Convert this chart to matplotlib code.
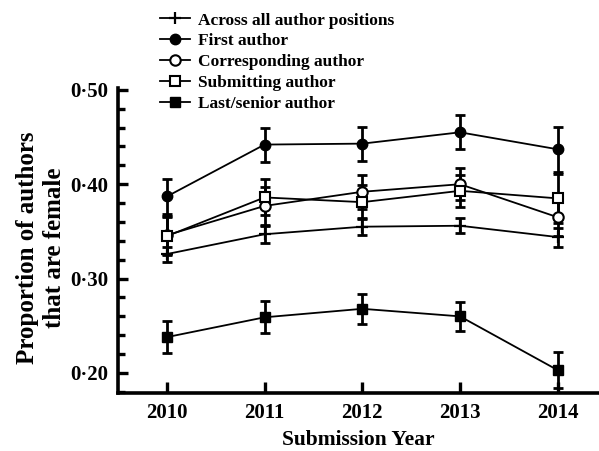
import matplotlib
matplotlib.use("Agg")
import matplotlib.pyplot as plt
from matplotlib.ticker import MultipleLocator, FuncFormatter

years = [2010, 2011, 2012, 2013, 2014]

across_all = [0.326, 0.347, 0.355, 0.356, 0.344]
across_all_err = [0.008, 0.009, 0.009, 0.008, 0.010]

first_author = [0.387, 0.442, 0.443, 0.455, 0.437]
first_author_err = [0.019, 0.018, 0.018, 0.018, 0.024]

corresponding = [0.346, 0.377, 0.392, 0.400, 0.365]
corresponding_err = [0.020, 0.020, 0.018, 0.017, 0.020]

submitting = [0.345, 0.386, 0.381, 0.393, 0.385]
submitting_err = [0.020, 0.019, 0.018, 0.017, 0.026]

last_senior = [0.238, 0.259, 0.268, 0.260, 0.203]
last_senior_err = [0.017, 0.017, 0.016, 0.015, 0.019]

series = [
    ("Across all author positions", across_all, across_all_err, dict(marker="+", ms=9, mew=1.6, mfc="black")),
    ("First author", first_author, first_author_err, dict(marker="o", ms=7.5, mfc="black")),
    ("Corresponding author", corresponding, corresponding_err, dict(marker="o", ms=7.5, mfc="white", mew=1.5)),
    ("Submitting author", submitting, submitting_err, dict(marker="s", ms=7.5, mfc="white", mew=1.5)),
    ("Last/senior author", last_senior, last_senior_err, dict(marker="s", ms=7.5, mfc="black")),
]

plt.rcParams["font.family"] = ["Liberation Serif", "DejaVu Serif"]
plt.rcParams["font.weight"] = "bold"

fig = plt.figure(figsize=(5.99, 4.51), dpi=100)
ax = fig.add_axes([0.197, 0.1286, 0.801, 0.6764])

handles = []
for name, vals, errs, style in series:
    ax.errorbar(years, vals, yerr=errs, fmt="none", ecolor="black",
                elinewidth=2.0, capsize=3.5, capthick=2.0, zorder=2)
    (h,) = ax.plot(years, vals, color="black", lw=1.3, mec="black",
                   label=name, zorder=3, **style)
    handles.append(h)

ax.set_xlim(2009.5, 2014.41)
ax.set_ylim(0.1788, 0.502)

ax.set_xticks(years)
ax.yaxis.set_major_locator(MultipleLocator(0.10))
ax.yaxis.set_minor_locator(MultipleLocator(0.02))
ax.yaxis.set_major_formatter(FuncFormatter(lambda v, p: f"{v:.2f}".replace(".", "\u00b7")))

for side in ("top", "right"):
    ax.spines[side].set_visible(False)
for side in ("left", "bottom"):
    ax.spines[side].set_linewidth(2.6)

ax.tick_params(axis="both", which="major", direction="in", length=7, width=2.4,
               labelsize=15, pad=7)
ax.tick_params(axis="y", which="minor", direction="in", length=5, width=2.4)
ax.tick_params(axis="x", which="major", length=8, pad=7)

ax.set_xlabel("Submission Year", fontsize=15.5, fontweight="bold", labelpad=5)
ax.set_ylabel("Proportion of authors\nthat are female", fontsize=18,
              fontweight="bold", labelpad=3, linespacing=1.2)
ax.yaxis.label.set_y(0.477)

fig.legend(handles=handles, loc="upper left", bbox_to_anchor=(0.255, 0.988),
           frameon=False, handlelength=1.75, handletextpad=0.45,
           labelspacing=0.27, borderaxespad=0.0, prop={"weight": "bold", "size": 12.5})

fig.savefig("out.png", dpi=100)
